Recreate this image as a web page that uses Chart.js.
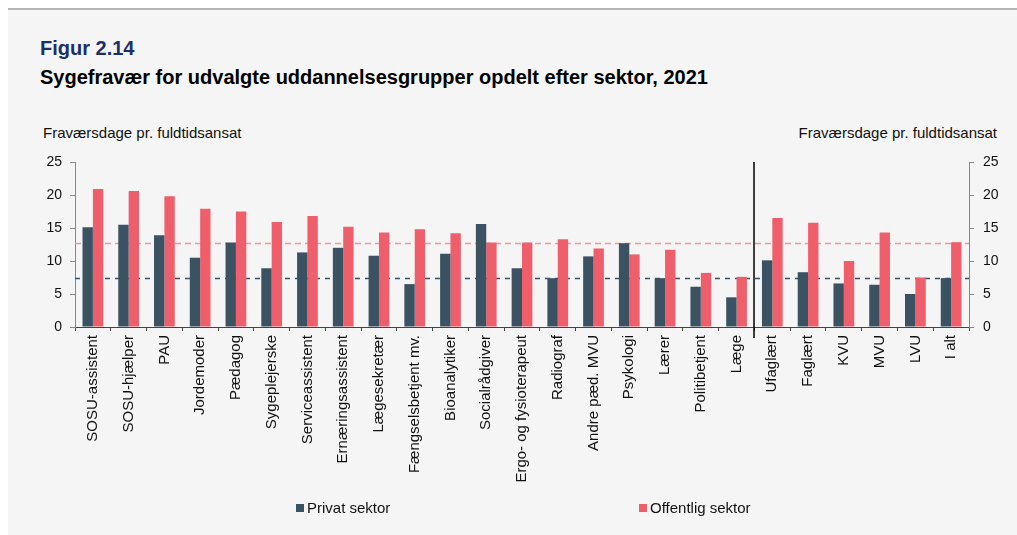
<!DOCTYPE html>
<html lang="da">
<head>
<meta charset="utf-8">
<script src="https://cdn.jsdelivr.net/npm/chart.js@4.4.0/dist/chart.umd.min.js"></script>
<style>
  html, body { margin: 0; padding: 0; background: #ffffff; width: 1017px; height: 535px; overflow: hidden; font-family: "Liberation Sans", Arial, sans-serif; }
  #panel { position: absolute; left: 8px; top: 8px; width: 1009px; height: 527px; background: #f5f5f5; border-top: 2px solid #b4b4b4; box-sizing: border-box; }
  .txt { position: absolute; white-space: nowrap; }
  #fig { left: 40px; top: 38px; font-size: 20px; line-height: 20px; font-weight: bold; color: #1b2f6b; }
  #title { left: 40px; top: 67px; font-size: 20px; line-height: 20px; font-weight: bold; color: #000; }
  .unit { top: 125px; font-size: 15px; line-height: 15px; color: #111; }
  #unitL { left: 43px; }
  #unitR { right: 20px; }
  #wrap { position: absolute; left: 0; top: 0; width: 1017px; height: 535px; }
  .leg { position: absolute; top: 500px; font-size: 15px; line-height: 16px; color: #111; white-space: nowrap; }
  .leg span.box { display: inline-block; width: 8px; height: 8px; margin-right: 3px; vertical-align: 1px; }
</style>
</head>
<body>
<div id="panel"></div>
<div class="txt" id="fig">Figur 2.14</div>
<div class="txt" id="title">Sygefravær for udvalgte uddannelsesgrupper opdelt efter sektor, 2021</div>
<div class="txt unit" id="unitL">Fraværsdage pr. fuldtidsansat</div>
<div class="txt unit" id="unitR">Fraværsdage pr. fuldtidsansat</div>
<div id="wrap"><canvas id="c"></canvas></div>
<div id="legend"></div>
<script>
// ---- Data ----
const categories = ["SOSU-assistent", "SOSU-hjælper", "PAU", "Jordemoder", "Pædagog", "Sygeplejerske",
  "Serviceassistent", "Ernæringsassistent", "Lægesekretær", "Fængselsbetjent mv.", "Bioanalytiker",
  "Socialrådgiver", "Ergo- og fysioterapeut", "Radiograf", "Andre pæd. MVU", "Psykologi", "Lærer",
  "Politibetjent", "Læge", "Ufaglært", "Faglært", "KVU", "MVU", "LVU", "I alt"];
const privat = [15.1, 15.5, 13.9, 10.5, 12.8, 8.9, 11.3, 12.0, 10.8, 6.5, 11.1, 15.6, 8.9, 7.4, 10.7, 12.7, 7.4, 6.1, 4.5, 10.1, 8.3, 6.6, 6.4, 5.0, 7.4];
const offentlig = [20.9, 20.6, 19.8, 17.9, 17.5, 15.9, 16.8, 15.2, 14.3, 14.8, 14.2, 12.8, 12.8, 13.3, 11.9, 11.0, 11.7, 8.2, 7.6, 16.5, 15.8, 10.0, 14.3, 7.5, 12.85];
const seriesNames = ["Privat sektor", "Offentlig sektor"];
const averages = [7.4, 12.75];          // "I alt" levels, privat / offentlig
const dividerAfter = "Læge";             // vertical separator after this category
const yTicks = [0, 5, 10, 15, 20, 25];

const colPrivat = "#3b5263";
const colOffentlig = "#ef5f6b";
const colAvg = ["#3b5263", "#f2959d"];

const FONT = "'Liberation Sans', Arial, sans-serif";

const refLines = {
  id: "refLines",
  beforeDatasetsDraw(chart) {
    const { ctx, chartArea } = chart;
    const ys = chart.scales.y;
    ctx.save();
    ctx.lineWidth = 1.5;
    averages.forEach((v, i) => {
      const py = Math.round(ys.getPixelForValue(v)) + 0.5;
      ctx.strokeStyle = colAvg[i];
      ctx.setLineDash(i === 0 ? [5, 5] : [6, 4]);
      ctx.beginPath();
      ctx.moveTo(chartArea.left, py);
      ctx.lineTo(chartArea.right, py);
      ctx.stroke();
    });
    ctx.restore();
  },
  afterDatasetsDraw(chart) {
    const { ctx, chartArea } = chart;
    const xs = chart.scales.x;
    const i = categories.indexOf(dividerAfter);
    const px = Math.round((xs.getPixelForValue(i) + xs.getPixelForValue(i + 1)) / 2);
    ctx.save();
    ctx.strokeStyle = "#000";
    ctx.lineWidth = 1.5;
    ctx.beginPath();
    ctx.moveTo(px, chartArea.top);
    ctx.lineTo(px, chartArea.bottom + 11);
    ctx.stroke();
    ctx.restore();
  }
};

const yCommon = (pos, width, pad) => ({
  position: pos,
  min: 0, max: 25,
  afterBuildTicks(s) { s.ticks = yTicks.map(v => ({ value: v })); },
  ticks: { font: { family: FONT, size: 14 }, color: "#111", padding: pad },
  grid: { drawOnChartArea: false, drawTicks: true, tickLength: 5, color: "#888", tickColor: "#888" },
  border: { color: "#888", width: 1 },
  afterFit(s) { s.width = width; }
});

new Chart(document.getElementById("c"), {
  type: "bar",
  data: {
    labels: categories,
    datasets: [
      { label: seriesNames[0], data: privat, backgroundColor: colPrivat, borderWidth: 0, yAxisID: "y" },
      { label: seriesNames[1], data: offentlig, backgroundColor: colOffentlig, borderWidth: 0, yAxisID: "y" }
    ]
  },
  options: {
    responsive: true,
    maintainAspectRatio: false,
    animation: false,
    layout: { padding: { top: 162, left: 0, right: 0, bottom: 0 } },
    datasets: { bar: { categoryPercentage: 0.58, barPercentage: 1.0 } },
    plugins: { legend: { display: false }, tooltip: { enabled: false } },
    scales: {
      x: {
        offset: true,
        grid: { offset: true, drawOnChartArea: false, drawTicks: true, tickLength: 4, color: "#444", tickColor: "#444" },
        border: { color: "#444", width: 1 },
        ticks: { autoSkip: false, minRotation: 90, maxRotation: 90, padding: 4, font: { family: FONT, size: 15 }, color: "#111" },
        afterFit(s) { s.height = 208; }
      },
      y: yCommon("left", 75, 8),
      y2: yCommon("right", 48, 9)
    }
  },
  plugins: [refLines]
});

// legend as text, built from series names
const legendPos = [296, 639];
const legendCols = [colPrivat, colOffentlig];
const legendEl = document.getElementById("legend");
seriesNames.forEach((name, i) => {
  const d = document.createElement("div");
  d.className = "leg";
  d.style.left = legendPos[i] + "px";
  d.innerHTML = '<span class="box" style="background:' + legendCols[i] + '"></span>' + name;
  legendEl.appendChild(d);
});
</script>
</body>
</html>
